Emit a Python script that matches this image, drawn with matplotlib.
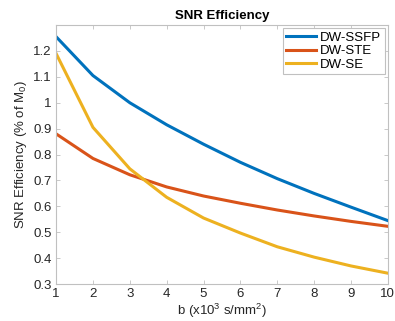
import matplotlib
matplotlib.use('Agg')
import matplotlib.pyplot as plt

b = [1, 2, 3, 4, 5, 6, 7, 8, 9, 10]
ssfp = [1.255, 1.105, 1.0, 0.915, 0.84, 0.77, 0.707, 0.650, 0.597, 0.545]
ste = [0.88, 0.785, 0.722, 0.675, 0.640, 0.612, 0.586, 0.563, 0.542, 0.523]
se = [1.19, 0.905, 0.745, 0.635, 0.555, 0.497, 0.444, 0.404, 0.370, 0.342]

plt.rcParams['font.family'] = ['Liberation Sans', 'DejaVu Sans']
plt.rcParams['mathtext.fontset'] = 'custom'
plt.rcParams['mathtext.rm'] = 'Liberation Sans'

fig = plt.figure(figsize=(3.95, 3.21), dpi=100)
ax = fig.add_axes([0.142, 0.115, 0.840, 0.807])

ax.plot(b, ssfp, color='#0072BD', lw=2.2, label='DW-SSFP')
ax.plot(b, ste, color='#D95319', lw=2.2, label='DW-STE')
ax.plot(b, se, color='#EDB120', lw=2.2, label='DW-SE')

ax.set_xlim(1, 10)
ax.set_ylim(0.3, 1.3)
ax.set_xticks(range(1, 11))
ax.set_yticks([0.3, 0.4, 0.5, 0.6, 0.7, 0.8, 0.9, 1.0, 1.1, 1.2])
ax.set_yticklabels(['0.3', '0.4', '0.5', '0.6', '0.7', '0.8', '0.9', '1', '1.1', '1.2'])

grey = '#262626'
for s in ax.spines.values():
    s.set_color('#c0c0c0')
    s.set_linewidth(0.8)
ax.tick_params(direction='in', length=3, width=0.6, colors='#c0c0c0',
               labelcolor=grey, labelsize=9.5, top=True, right=True, pad=3)

ax.set_xlabel(r'b (x10$^\mathrm{3}$ s/mm$^\mathrm{2}$)', fontsize=9.5, color=grey, labelpad=1)
ax.set_ylabel(r'SNR Efficiency (% of M$_\mathrm{0}$)', fontsize=9.5, color=grey, labelpad=3)
ax.set_title('SNR Efficiency', fontsize=9.5, fontweight='bold', color='black', pad=4)

leg = ax.legend(loc='upper right', fontsize=9.5, handlelength=2.3, handletextpad=0.3,
                borderpad=0.25, labelspacing=0.1, borderaxespad=0.25, fancybox=False,
                framealpha=1)
leg.get_frame().set_edgecolor('#c0c0c0')
leg.get_frame().set_linewidth(0.8)

fig.savefig('out.png', dpi=100)
